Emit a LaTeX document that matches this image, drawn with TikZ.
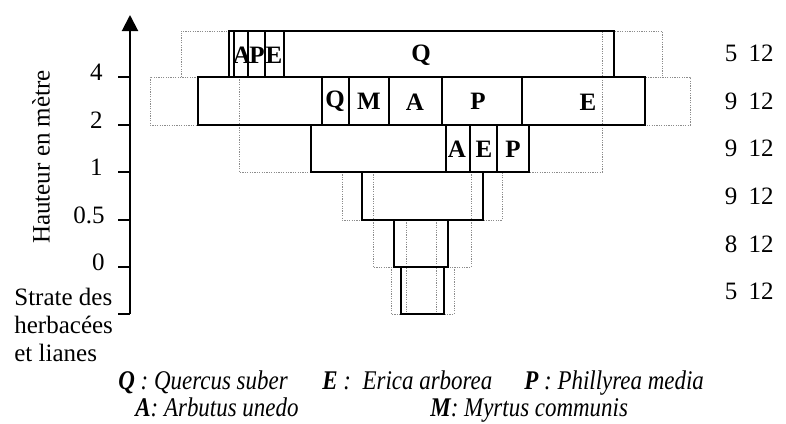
\documentclass[tikz,border=0pt]{standalone}
\usepackage{fontspec}
\setmainfont{Liberation Serif}
\usetikzlibrary{arrows.meta}
\begin{document}
\begin{tikzpicture}[x=0.5pt,y=-0.5pt,
 box/.style={draw=black,line width=1.3pt},
 dotl/.style={draw=black!45,line width=0.5pt,dash pattern=on 0.6pt off 0.6pt},
 lab/.style={font=\fontsize{12.5}{14}\selectfont\bfseries,inner sep=0pt},
 ticklab/.style={font=\fontsize{12.5}{14}\selectfont,anchor=east,inner sep=0pt},
 num/.style={font=\fontsize{12.5}{14}\selectfont,inner sep=0pt},
 leg/.style={font=\fontsize{13.5}{15}\selectfont\itshape,anchor=base west,inner sep=0pt}]
\useasboundingbox (0,0) rectangle (786,423);

% dotted guide lines
\draw[dotl] (181,77) -- (181,31) -- (662,31) -- (662,77) -- (614,77);
\draw[dotl] (198,77) -- (150,77) -- (150,125) -- (690,125) -- (690,77) -- (645,77);
\draw[dotl] (239,77) -- (239,172) -- (311,172);
\draw[dotl] (530,172) -- (602,172) -- (602,31);
\draw[dotl] (342,172) rectangle (502,220);
\draw[dotl] (373,172) -- (373,267) -- (394,267);
\draw[dotl] (471,172) -- (471,267) -- (448,267);
\draw[dotl] (406,220) -- (406,314);
\draw[dotl] (436,220) -- (436,314);
\draw[dotl] (391,267) -- (391,314) -- (401,314);
\draw[dotl] (454,267) -- (454,314) -- (444,314);

% axis
\coordinate (ax0) at (130,314);
\coordinate (ax1) at (130,15);
\draw[line width=1pt,-{Triangle[width=8pt,length=8pt]}] (ax0) -- (ax1);
\foreach \yy in {77,125,172,220,267,314} \draw[line width=1pt] (118,\yy) -- (130,\yy);
\node[ticklab] (t4) at (103,72) {4};
\node[ticklab] (t2) at (103,120) {2};
\node[ticklab] (t1) at (103,167) {1};
\node[ticklab] (t05) at (105,215) {0.5};
\node[ticklab] (t0) at (105,262) {0};
\node[font=\fontsize{12.5}{14}\selectfont,rotate=90,inner sep=0pt] (yl) at (41,157) {Hauteur en mètre};
\node[font=\fontsize{12.5}{14}\selectfont,anchor=west,inner sep=0pt] (s1) at (14,297) {Strate des};
\node[font=\fontsize{12.5}{14}\selectfont,anchor=west,inner sep=0pt] (s2) at (14,325) {herbacées};
\node[font=\fontsize{12.5}{14}\selectfont,anchor=west,inner sep=0pt] (s3) at (14,353) {et lianes};

% row 1
\draw[box] (229,31) rectangle (614,77);
\foreach \xx in {234,248,265,284} \draw[box] (\xx,31) -- (\xx,77);
\node[lab] (r1a) at (242,55) {A};
\node[lab] (r1p) at (257,55) {P};
\node[lab] (r1e) at (274,55) {E};
\node[lab] (r1q) at (421,55) {Q};
% row 2
\draw[box] (198,77) rectangle (645,125);
\foreach \xx in {322,349,389,442,522} \draw[box] (\xx,77) -- (\xx,125);
\node[lab] (r2q) at (335,101) {Q};
\node[lab] (r2m) at (369,101) {M};
\node[lab] (r2a) at (415,102) {A};
\node[lab] (r2p) at (478,101) {P};
\node[lab] (r2e) at (588,102) {E};
% row 3
\draw[box] (311,125) rectangle (529,172);
\foreach \xx in {446,470,497} \draw[box] (\xx,125) -- (\xx,172);
\node[lab] (r3a) at (457,149) {A};
\node[lab] (r3e) at (484,149) {E};
\node[lab] (r3p) at (513,149) {P};
% rows 4-6
\draw[box] (362,172) rectangle (483,220);
\draw[box] (394,220) rectangle (448,267);
\draw[box] (401,267) rectangle (444,314);

% right numbers
\foreach \yy/\n [count=\i] in {53/5,101/9,148/9,196/9,244/8,291/5}{
  \node[num] (na\i) at (731,\yy) {\n};
  \node[num] (nb\i) at (761,\yy) {12};
}

% legend
\node[leg] (lq) at (118,389) {\scalebox{0.85}[1]{\textbf{Q} : Quercus suber}};
\node[leg] (le) at (322,389) {\scalebox{0.85}[1]{\textbf{E} :\ \ Erica arborea}};
\node[leg] (lp) at (524,389) {\scalebox{0.85}[1]{\textbf{P} : Phillyrea media}};
\node[leg] (la) at (135,416) {\scalebox{0.85}[1]{\textbf{A}: Arbutus unedo}};
\node[leg] (lm) at (430,416) {\scalebox{0.85}[1]{\textbf{M}: Myrtus communis}};
\end{tikzpicture}
\end{document}
